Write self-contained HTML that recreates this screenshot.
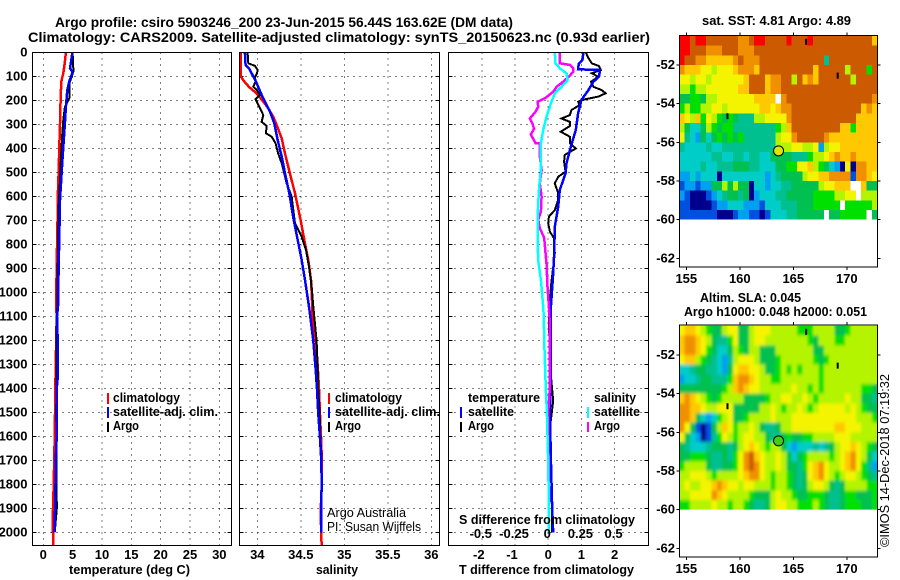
<!DOCTYPE html>
<html>
<head>
<meta charset="utf-8">
<title>Argo profile</title>
<style>
html,body{margin:0;padding:0;background:#fff;}
svg{display:block;}
text{font-family:"Liberation Sans",sans-serif;fill:#000;font-size:13px;font-weight:bold;}
.thin{font-weight:normal;}
.ttl{font-size:14px;}
</style>
</head>
<body>
<svg id="chart" xmlns="http://www.w3.org/2000/svg" width="900" height="580" viewBox="0 0 900 580">
<defs>
<clipPath id="clip-t"><rect x="33" y="53" width="199" height="492"/></clipPath>
<clipPath id="clip-s"><rect x="240" y="53" width="199" height="492"/></clipPath>
<clipPath id="clip-d"><rect x="449" y="53" width="199" height="492"/></clipPath>
<clipPath id="clip-sla"><rect x="679.3" y="325" width="198" height="184.7"/></clipPath>
<filter id="sla-blur" x="-5%" y="-5%" width="110%" height="110%"><feGaussianBlur stdDeviation="1.3 1.7"/></filter>
</defs>
<rect x="0" y="0" width="900" height="580" fill="#fff"/>
<text class="ttl" x="55" y="27" textLength="458" lengthAdjust="spacingAndGlyphs">Argo profile: csiro 5903246_200 23-Jun-2015 56.44S 163.62E (DM data)</text>
<text class="ttl" x="28" y="42" textLength="622" lengthAdjust="spacingAndGlyphs">Climatology: CARS2009. Satellite-adjusted climatology: synTS_20150623.nc (0.93d earlier)</text>

<g id="panel-t"></g>
<g id="panel-s"></g>
<g id="panel-d"></g>
<g id="map-sst"></g>
<g id="map-sla"></g>

<text x="69" y="574" textLength="121" lengthAdjust="spacingAndGlyphs">temperature (deg C)</text>
<text x="316" y="574" textLength="42" lengthAdjust="spacingAndGlyphs">salinity</text>
<text x="459" y="574" textLength="175" lengthAdjust="spacingAndGlyphs">T difference from climatology</text>
<text x="459" y="524" textLength="176" lengthAdjust="spacingAndGlyphs">S difference from climatology</text>

<g>
<rect x="107" y="393" width="2" height="11" fill="#ff0000"/>
<rect x="107" y="407" width="2" height="11" fill="#0000ff"/>
<rect x="107" y="422" width="2" height="10" fill="#000"/>
<text x="113" y="402" textLength="67" lengthAdjust="spacingAndGlyphs">climatology</text>
<text x="113" y="416" textLength="105" lengthAdjust="spacingAndGlyphs">satellite-adj. clim.</text>
<text x="113" y="430" textLength="26" lengthAdjust="spacingAndGlyphs">Argo</text>
</g>
<g>
<rect x="328" y="393" width="2" height="11" fill="#ff0000"/>
<rect x="328" y="407" width="2" height="11" fill="#0000ff"/>
<rect x="328" y="422" width="2" height="10" fill="#000"/>
<text x="335" y="402" textLength="67" lengthAdjust="spacingAndGlyphs">climatology</text>
<text x="335" y="416" textLength="105" lengthAdjust="spacingAndGlyphs">satellite-adj. clim.</text>
<text x="335" y="430" textLength="26" lengthAdjust="spacingAndGlyphs">Argo</text>
</g>
<g>
<text x="468" y="402" textLength="72" lengthAdjust="spacingAndGlyphs">temperature</text>
<rect x="460" y="407" width="2" height="11" fill="#0000ff"/>
<rect x="460" y="422" width="2" height="10" fill="#000"/>
<text x="468" y="416" textLength="46" lengthAdjust="spacingAndGlyphs">satellite</text>
<text x="468" y="430" textLength="26" lengthAdjust="spacingAndGlyphs">Argo</text>
<text x="594" y="402" textLength="42" lengthAdjust="spacingAndGlyphs">salinity</text>
<rect x="587" y="407" width="2" height="11" fill="#00ffff"/>
<rect x="587" y="422" width="2" height="10" fill="#ff00ff"/>
<text x="594" y="416" textLength="46" lengthAdjust="spacingAndGlyphs">satellite</text>
<text x="594" y="430" textLength="26" lengthAdjust="spacingAndGlyphs">Argo</text>
</g>
<text class="thin" x="327" y="517" textLength="79" lengthAdjust="spacingAndGlyphs">Argo Australia</text>
<text class="thin" x="327" y="531" textLength="94" lengthAdjust="spacingAndGlyphs">PI: Susan Wijffels</text>

<text x="702" y="25" textLength="149" lengthAdjust="spacingAndGlyphs">sat. SST: 4.81 Argo: 4.89</text>
<text x="700" y="302" textLength="101" lengthAdjust="spacingAndGlyphs">Altim. SLA: 0.045</text>
<text x="684" y="316" textLength="183" lengthAdjust="spacingAndGlyphs">Argo h1000: 0.048 h2000: 0.051</text>
<text class="thin" transform="translate(889,547) rotate(-90)" textLength="173" lengthAdjust="spacingAndGlyphs">©IMOS 14-Dec-2018 07:19:32</text>
</svg>

<script>
/* ---- depth ticks ---- */
var depthTicks = [0,100,200,300,400,500,600,700,800,900,1000,1100,1200,1300,1400,1500,1600,1700,1800,1900,2000];

/* ---- temperature panel ---- */
var tTicks = [0,5,10,15,20,25,30];
var climTDepth = [0,44,86,120,197,294,392,503,572,683,905,1058,1100,1300,1600,1800,1950,2053];
var climT = [3.86,3.64,3.41,3.07,2.95,2.84,2.73,2.61,2.5,2.44,2.27,2.2,2.29,2.11,1.94,1.77,1.6,1.7];
var satTDepth = [0,31,65,80,120,155,225,294,392,503,614,767,905,1058,1100,1200,1340,1400,1600,1700,1850,2000];
var satT = [4.94,4.77,4.55,5.0,4.43,4.09,3.86,3.69,3.41,3.12,2.84,2.73,2.61,2.5,2.34,2.46,2.5,2.29,2.29,2.11,2.06,1.89];
var argoTDepth = [0,65,80,128,190,225,281,336,433,531,642,781,1058,1100,1200,1500,1900,2000];
var argoT = [5.0,5.11,5.11,4.43,4.43,3.69,3.41,3.24,3.01,2.84,2.61,2.5,2.39,2.29,2.29,2.2,2.3,1.95];

/* ---- salinity panel ---- */
var sTicks = [34,34.5,35,35.5,36];
var sTickLabels = ['34','34.5','35','35.5','36'];
var climSDepth = [0,100,120,142,170,204,232,267,308,357,420,503,586,697,780,864,947,1058,1100,1200,1300,1400,1500,1600,1700,1800,1900,2000,2053];
var climS = [33.81,33.812,33.85,33.904,33.992,34.069,34.126,34.184,34.23,34.28,34.318,34.375,34.433,34.498,34.54,34.586,34.617,34.632,34.632,34.674,34.693,34.709,34.72,34.732,34.743,34.74,34.73,34.733,34.74];
var satSDepth = [0,51,65,86,120,170,211,246,294,364,433,503,586,697,780,864,947,1058,1100,1200,1300,1400,1500,1600,1700,1800,1900,2000];
var satS = [33.858,33.866,33.904,33.935,33.985,34.042,34.096,34.146,34.195,34.234,34.28,34.318,34.368,34.418,34.464,34.51,34.548,34.594,34.609,34.644,34.667,34.686,34.70,34.72,34.736,34.74,34.733,34.733];
var argoSDepth = [0,44,55,72,86,103,120,142,155,176,194,211,232,260,288,305,336,350,378,420,461,503,544,600,655,711,767,822,892,975,1058,1100,1200,1300,1400,1500,1600,1700,1800,2000];
var argoS = [33.889,33.897,33.973,34.004,33.996,33.973,33.981,33.954,33.992,34.031,33.981,34.004,34.031,34.069,34.05,34.107,34.10,34.165,34.21,34.24,34.28,34.31,34.337,34.395,34.414,34.433,34.51,34.56,34.594,34.625,34.644,34.655,34.682,34.693,34.70,34.716,34.724,34.74,34.74,34.733];

/* ---- difference panel ---- */
var dTicks = [-2,-1,0,1,2];
var dsTicks = [-0.5,-0.25,0,0.25,0.5];
var dsTickLabels = ['-0.5','-0.25','0','0.25','0.5'];
var argoDTDepth = [0,17,44,56,72,86,100,121,142,156,169,183,194,204,218,239,260,274,288,306,329,350,378,399,426,454,496,517,544,565,586,614,656,683,711,746,774,836,892,975,1058,1100,1300,1450,1600,1800,2000];
var argoDT = [1.14,1.19,1.31,1.53,1.59,1.31,1.51,1.29,1.36,1.61,1.73,1.51,1.11,0.90,0.95,0.70,0.65,0.40,0.65,0.65,0.38,0.65,0.65,0.83,0.50,0.48,0.52,0.30,0.20,0.25,0.30,0.30,0.20,0.02,0,0.05,0.18,0.20,0.15,0.08,0.05,0.02,0.05,0.15,0.02,0.10,0.12];
var satDTDepth = [0,31,47,69,72,100,121,156,197,253,322,392,461,503,572,642,725,836,919,1058,1100,1300,1500,1700,1900,2000];
var satDT = [1.06,1.03,0.92,0.90,1.56,1.53,1.36,1.21,1.0,0.90,0.83,0.68,0.55,0.52,0.35,0.30,0.20,0.18,0.15,0.08,0.08,0.08,0.05,0.08,0.12,0.15];
var argoDSDepth = [0,44,51,65,79,100,121,142,163,190,204,225,246,274,294,317,340,378,378,433,489,544,600,662,696,731,772,880,975,1058,1100,1300,1400,1500,1600,1880];
var argoDS = [0.088,0.088,0.163,0.188,0.188,0.156,0.113,0.063,0.038,-0.025,-0.08,-0.075,-0.095,-0.138,-0.12,-0.106,-0.131,-0.095,-0.063,-0.063,-0.05,-0.063,-0.05,-0.055,-0.075,-0.063,-0.03,-0.013,-0.005,0.005,0.01,0.012,0.012,0,0,0.008];
var satDSDepth = [0,44,65,86,114,142,169,211,267,322,378,447,503,558,628,697,781,864,947,1058,1100,1200,1400,1500,1700,1900,2000];
var satDS = [0.05,0.055,0.088,0.138,0.146,0.1,0.05,0.02,-0.013,-0.038,-0.055,-0.055,-0.058,-0.068,-0.075,-0.08,-0.08,-0.075,-0.055,-0.038,-0.033,-0.03,-0.018,-0.01,0,0.005,0.005];

/* ---- map data: one character per 0.5 degree cell, spaces are only separators ---- */
var lonTicks = [155,160,165,170];
var latTicks = [-52,-54,-56,-58,-60,-62];
var floatLon = 163.62;
var floatLat = -56.44;
var trackLon = [166.2,169.15,158.85];
var trackLat = [-50.8,-52.55,-54.65];
var sstRows = [
"ccbccbbbbbbaabccbbbbcbbbcbbbbbbbbbbb9",
"ccbbbaaabbbaaa bbbbbbbbbbbbbbbbbbbbbbb",
"cbbaa99999abaaa bbbbbbbbbbbb 4 bbbbbbbbb",
"a9998878889aaa9bbbbbbbbbb9bbbbb7bbb6b",
"8878878888889bbb9aabb7b9a9bbbbbb7bbbb",
"7767788888899bbb9aabbbbbbbbbbbbbbbbbb",
"556657788888889999wabbbbbbbbbbbbbbbba",
"6766778878888889989aabbbbbbbbbbbbb9a9",
"98796876565444778888abbbbbbbbbbbb9999",
"7533 57 65 66 44444444 67 9 bbbbbbbbb 99 6 9999",
"843253 565656 444444 7 88 a bbbbb a 999999999",
"433334334444444444 777 887 78 2 7 889999999",
"3333334433 44344 33 55 554 44 67 7 8 9a99a9999",
"333343344 455544 333 5566 889 76 53 2 0 8 0 a a 9 9",
"2232333 0 33333333 2 3 4 5555 7 88 99 aaaa 1 aa 9 8",
"122122 5575755 0 33233 4455 555 78 899 9ww 955",
"21 000 1 23 45545 0 23 33 4 4555 55 66 66 77 8 8w 777",
"11 0000 1 22 33 32 221 333 4445 5566666 w 666667",
"111111 1 000 12211 01 333 4455555 w 55666 66 w 5"
];
var slaRows = [
"8998 7 655 78 8 55 7 888 77777 6667 777 556 77777",
"9aa98 75 44 68 55 78 87 7777 77 7 65 7 77 66 777777",
"9aa98 65 33 5 7 65 77 55 57 7777 77 55 7777 777777",
"8997 6 54 32 4 78 88 7 55 5 67 7777 76 56 77 7777777",
"3345 5 44 32 5 8 99 88 7 55 6 7 6767 77 67 7777 77777",
"2334 55 44 46 9 aa 98 77 66 7 7777 77 6 77 77777777",
"5555 55 55 67 9 a9 88 77 7 77 78 77 67 67 7777 77 665",
"9a98 765 67 7 7 75 55 56 7 78 87 78 76 77 7778 7 7 554",
"aa99 87 78 88 55 55 57 78 7 6 77 8 76 7 8 88 88 7 8 7 655",
"aa9 5 32 36 78 55 67 77 78 7 7 78 8 88 8 8 88 8 88 87 776",
"a851015798 6778754457 7888888889 9888777",
"8532014687 6788775445 6556677778 8877777",
"5433345554 5789876775 3233343457 8898765",
"5566654454 68ab987787 5356777767 89a8753",
"6777754455 68aba87787 5546 89a8 77 89a8642",
"7788876777 789aa87677 6545 89a8 76 7887654",
"7877889a98 8788777677 6545 7887 54 5777766",
"77888 8a987 7776555 7 8 77 6556 66 5 44 566 555 6",
"66777 78776 7765 44 5 7 88 77 66 6 7 6 5 44 5 666 55 6"
];

var NS = 'http://www.w3.org/2000/svg';
var depthY = function (d) { return 52.7 + d * 0.24; };
var tempX = function (t) { return 43.3 + t * 5.867; };
var salX = function (s) { return 257.3 + (s - 34) * 87; };
var diffX = function (t) { return 548.2 + t * 33.2; };
var dsX = function (s) { return diffX(s * 4); };
var lonX = function (lon) { return 686.3 + (lon - 155) * 10.7; };

function make(tag, attrs, parent, text) {
  var el = document.createElementNS(NS, tag);
  for (var k in attrs) { el.setAttribute(k, attrs[k]); }
  if (text !== undefined) { el.textContent = text; }
  parent.appendChild(el);
  return el;
}

function drawAxes(group, left, right, top, bottom, xTicks, xScale, xLabels, showDepthLabels) {
  var i, el, yp, xp;
  for (i = 0; i < depthTicks.length; i++) {
    yp = depthY(depthTicks[i]);
    if (i > 0) {
      el = make('line', {x1: left, x2: right, y1: yp, y2: yp, stroke: '#000', 'stroke-width': 1, 'stroke-dasharray': '1 5', 'shape-rendering': 'crispEdges'}, group);
      
      
      el = make('line', {x1: left, x2: left + 4, y1: yp, y2: yp, stroke: '#000', 'shape-rendering': 'crispEdges'}, group);
      
      
      el = make('line', {x1: right - 4, x2: right, y1: yp, y2: yp, stroke: '#000', 'shape-rendering': 'crispEdges'}, group);
      
      
    }
    if (showDepthLabels) {
      el = make('text', {x: 27.5, y: yp + 4, 'text-anchor': 'end'}, group, String(depthTicks[i]));
      
      
    }
  }
  for (i = 0; i < xTicks.length; i++) {
    xp = xScale(xTicks[i]);
    el = make('line', {x1: xp, x2: xp, y1: top, y2: bottom, stroke: '#000', 'stroke-width': 1, 'stroke-dasharray': '1 5', 'shape-rendering': 'crispEdges'}, group);
    
    
    el = make('text', {x: xp - (xTicks[i] < 0 ? 3 : 0), y: 559, 'text-anchor': 'middle'}, group, xLabels[i]);
    
    
  }
  el = make('rect', {x: left, y: top, width: right - left, height: bottom - top, fill: 'none', stroke: '#000', 'stroke-width': 1, 'shape-rendering': 'crispEdges'}, group);
  
  
}

function linePoints(depths, values, xScale) {
  var pts = [];
  for (var i = 0; i < values.length; i++) {
    pts.push(xScale(values[i]).toFixed(1) + ',' + depthY(depths[i]).toFixed(1));
  }
  return pts.join(' ');
}

var panelT = document.getElementById('panel-t');
var panelS = document.getElementById('panel-s');
var panelD = document.getElementById('panel-d');

drawAxes(panelT, 32.5, 231.5, 52.5, 545.5, tTicks, tempX, tTicks.map(String), true);
drawAxes(panelS, 239.5, 439.5, 52.5, 545.5, sTicks, salX, sTickLabels, false);
drawAxes(panelD, 448.5, 648.5, 52.5, 545.5, dTicks, diffX, dTicks.map(String), false);

var tLines = make('g', {'clip-path': 'url(#clip-t)', fill: 'none', 'stroke-width': 2.5, 'shape-rendering': 'crispEdges'}, panelT);


var lineEl;
lineEl = make('polyline', {points: linePoints(climTDepth, climT, tempX), stroke: '#ff0000'}, tLines);


lineEl = make('polyline', {points: linePoints(argoTDepth, argoT, tempX), stroke: '#000', 'stroke-width': 2}, tLines);


lineEl = make('polyline', {points: linePoints(satTDepth, satT, tempX), stroke: '#0000ff'}, tLines);



var sLines = make('g', {'clip-path': 'url(#clip-s)', fill: 'none', 'stroke-width': 2.5, 'shape-rendering': 'crispEdges'}, panelS);


lineEl = make('polyline', {points: linePoints(climSDepth, climS, salX), stroke: '#ff0000'}, sLines);


lineEl = make('polyline', {points: linePoints(argoSDepth, argoS, salX), stroke: '#000', 'stroke-width': 2}, sLines);


lineEl = make('polyline', {points: linePoints(satSDepth, satS, salX), stroke: '#0000ff'}, sLines);



var dLines = make('g', {'clip-path': 'url(#clip-d)', fill: 'none', 'stroke-width': 2.5, 'shape-rendering': 'crispEdges'}, panelD);


lineEl = make('polyline', {points: linePoints(argoDTDepth, argoDT, diffX), stroke: '#000', 'stroke-width': 2}, dLines);


lineEl = make('polyline', {points: linePoints(satDTDepth, satDT, diffX), stroke: '#0000ff'}, dLines);


lineEl = make('polyline', {points: linePoints(argoDSDepth, argoDS, dsX), stroke: '#ff00ff'}, dLines);


lineEl = make('polyline', {points: linePoints(satDSDepth, satDS, dsX), stroke: '#00ffff'}, dLines);



for (var si = 0; si < dsTicks.length; si++) {
  var sLabel = make('text', {x: dsX(dsTicks[si]) - 1, y: 538, 'text-anchor': 'middle'}, panelD, dsTickLabels[si]);
  
  
}

var palette = {'0':'#00008c','1':'#0050e0','2':'#00a0f0','3':'#00ccc8','4':'#00c090','5':'#00c050','6':'#00e000','7':'#b4f400','8':'#f4f400','9':'#ffc800','a':'#f09000','b':'#cc5a00','c':'#ff0000','w':'#ffffff'};

function drawMap(group, rows, y52, axisTop, axisBottom, labelY, circleFill, cellsId, smooth) {
  var latY = function (lat) { return y52 + (-52 - lat) * 19.33; };
  var left = 679.3, right = 877.3;
  var r, c, el, row, ch, lonW, latN;
  var cells = make('g', {id: cellsId}, group);
  
  
  for (r = 0; r < rows.length; r++) {
    row = rows[r].replace(/ /g, '');
    latN = -50.5 - r * 0.5;
    for (c = 0; c < row.length; c++) {
      ch = row.charAt(c);
      lonW = 154.35 + c * 0.5;
      el = make('rect', {
        x: lonX(lonW).toFixed(2),
        y: Math.max(axisTop, latY(latN)).toFixed(2),
        width: (lonX(lonW + 0.5) - lonX(lonW)).toFixed(2),
        height: (latY(latN - 0.5) - Math.max(axisTop, latY(latN))).toFixed(2),
        fill: palette[ch],
        'shape-rendering': 'crispEdges'
      }, cells);
      
      
    }
  }
  if (smooth) {
    var clipG = make('g', {'clip-path': 'url(#clip-sla)'}, group);
    
    
    var overlay = make('use', {href: '#' + cellsId, filter: 'url(#sla-blur)'}, clipG);
    
    
  }
  for (var t = 0; t < trackLon.length; t++) {
    el = make('rect', {x: lonX(trackLon[t]) - 1, y: latY(trackLat[t]) - 3, width: 2, height: 6, fill: '#000'}, group);
    
    
  }
  el = make('circle', {cx: lonX(floatLon), cy: latY(floatLat), r: 5, fill: circleFill, stroke: '#000', 'stroke-width': 1}, group);
  
  
  for (var i = 0; i < lonTicks.length; i++) {
    var xp = lonX(lonTicks[i]);
    el = make('line', {x1: xp, x2: xp, y1: axisTop - 3, y2: axisTop, stroke: '#000', 'shape-rendering': 'crispEdges'}, group);
    
    
    el = make('line', {x1: xp, x2: xp, y1: axisBottom, y2: axisBottom + 3, stroke: '#000', 'shape-rendering': 'crispEdges'}, group);
    
    
    el = make('text', {x: xp, y: labelY, 'text-anchor': 'middle'}, group, String(lonTicks[i]));
    
    
  }
  for (var j = 0; j < latTicks.length; j++) {
    var yp = latY(latTicks[j]);
    el = make('line', {x1: left - 3, x2: left, y1: yp, y2: yp, stroke: '#000', 'shape-rendering': 'crispEdges'}, group);
    
    
    el = make('line', {x1: right, x2: right + 3, y1: yp, y2: yp, stroke: '#000', 'shape-rendering': 'crispEdges'}, group);
    
    
    el = make('text', {x: 675, y: yp + 4, 'text-anchor': 'end'}, group, String(latTicks[j]));
    
    
  }
  el = make('rect', {x: left, y: axisTop, width: right - left, height: axisBottom - axisTop, fill: 'none', stroke: '#000', 'shape-rendering': 'crispEdges'}, group);
  
  
}

drawMap(document.getElementById('map-sst'), sstRows, 65, 35.3, 267, 283, '#d8e800', 'sst-cells', false);
drawMap(document.getElementById('map-sla'), slaRows, 355, 325, 557, 573, '#40d010', 'sla-cells', true);
</script>
</body>
</html>
